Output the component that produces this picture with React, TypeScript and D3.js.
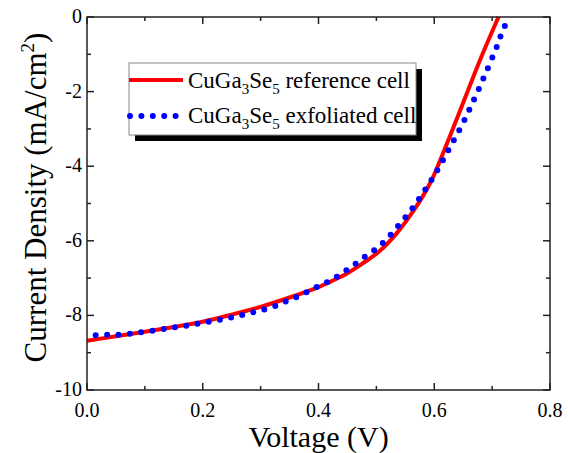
import React from "react";
import * as d3 from "d3";

// reference cell (solid red)
const refV = [0, 0.05, 0.1, 0.15, 0.2, 0.25, 0.3, 0.35, 0.4, 0.42, 0.45, 0.477, 0.506, 0.535, 0.564, 0.593, 0.61, 0.63, 0.655, 0.68, 0.711];
const refJ = [-8.68, -8.56, -8.44, -8.31, -8.17, -7.98, -7.77, -7.52, -7.24, -7.1, -6.87, -6.6, -6.27, -5.8, -5.2, -4.45, -3.85, -3.08, -2.1, -1.12, 0];

// exfoliated cell (blue dotted)
const exfV = [0.015, 0.035, 0.055, 0.075, 0.095, 0.115, 0.135, 0.155, 0.175, 0.195, 0.215, 0.235, 0.255, 0.275, 0.295, 0.315, 0.335, 0.35, 0.368, 0.384, 0.401, 0.419, 0.435, 0.452, 0.468, 0.485, 0.501, 0.515, 0.529, 0.542, 0.555, 0.567, 0.578, 0.589, 0.6, 0.61, 0.62, 0.629, 0.639, 0.648, 0.657, 0.665, 0.674, 0.682, 0.69, 0.698, 0.706, 0.712, 0.72, 0.727];
const exfJ = [-8.53, -8.52, -8.52, -8.49, -8.45, -8.41, -8.36, -8.31, -8.27, -8.21, -8.16, -8.1, -8.04, -7.96, -7.89, -7.8, -7.69, -7.58, -7.47, -7.34, -7.21, -7.08, -6.93, -6.75, -6.57, -6.37, -6.2, -6.0, -5.76, -5.52, -5.28, -5.03, -4.78, -4.52, -4.25, -3.98, -3.7, -3.44, -3.16, -2.89, -2.61, -2.33, -2.04, -1.75, -1.47, -1.17, -0.89, -0.61, -0.32, -0.03];

const xTicks = [0, 0.2, 0.4, 0.6, 0.8];
const xMinor = [0.1, 0.3, 0.5, 0.7];
const yTicks = [0, -2, -4, -6, -8, -10];
const yMinor = [-1, -3, -5, -7, -9];

const W = 568, H = 453;
const left = 87, right = 550, top = 17, bottom = 390;
const font = "Times New Roman, Liberation Serif, serif";

export default function App() {
  const x = d3.scaleLinear().domain([0, 0.8]).range([left, right]);
  const y = d3.scaleLinear().domain([-10, 0]).range([bottom, top]);

  const line = d3.line<[number, number]>()
    .x(d => x(d[0]))
    .y(d => y(d[1]))
    .curve(d3.curveCatmullRom.alpha(0.5));

  const refPath = line(refV.map((v, i) => [v, refJ[i]]) as [number, number][]) || "";
  const exfPath = line(exfV.map((v, i) => [v, exfJ[i]]) as [number, number][]) || "";

  const axisColor = "#222";
  const majLen = 7, minLen = 4;

  return (
    <svg width={W} height={H} style={{ position: "absolute", left: 0, top: 0, background: "#fff" }}>
      <defs>
        <clipPath id="plotclip">
          <rect x={left} y={top - 1} width={right - left} height={bottom - top + 1} />
        </clipPath>
      </defs>

      <g clipPath="url(#plotclip)">
        <path d={refPath} fill="none" stroke="#ff0000" strokeWidth={4} />
        <path d={exfPath} fill="none" stroke="#0000ff" strokeWidth={6} strokeLinecap="round" strokeDasharray="0 11.4" />
      </g>

      {/* frame */}
      <rect x={left} y={top} width={right - left} height={bottom - top} fill="none" stroke={axisColor} strokeWidth={1.5} />

      {/* ticks */}
      {xTicks.map(t => (
        <g key={"xt" + t}>
          <line x1={x(t)} x2={x(t)} y1={bottom} y2={bottom - majLen} stroke={axisColor} strokeWidth={1.5} />
          <line x1={x(t)} x2={x(t)} y1={top} y2={top + majLen} stroke={axisColor} strokeWidth={1.5} />
          <text x={x(t)} y={417} textAnchor="middle" fontFamily={font} fontSize={20}>{t.toFixed(1)}</text>
        </g>
      ))}
      {xMinor.map(t => (
        <g key={"xm" + t}>
          <line x1={x(t)} x2={x(t)} y1={bottom} y2={bottom - minLen} stroke={axisColor} strokeWidth={1.5} />
          <line x1={x(t)} x2={x(t)} y1={top} y2={top + minLen} stroke={axisColor} strokeWidth={1.5} />
        </g>
      ))}
      {yTicks.map(t => (
        <g key={"yt" + t}>
          <line x1={left} x2={left + majLen} y1={y(t)} y2={y(t)} stroke={axisColor} strokeWidth={1.5} />
          <line x1={right} x2={right - majLen} y1={y(t)} y2={y(t)} stroke={axisColor} strokeWidth={1.5} />
          <text x={82} y={y(t) + 6} textAnchor="end" fontFamily={font} fontSize={20}>{t}</text>
        </g>
      ))}
      {yMinor.map(t => (
        <g key={"ym" + t}>
          <line x1={left} x2={left + minLen} y1={y(t)} y2={y(t)} stroke={axisColor} strokeWidth={1.5} />
          <line x1={right} x2={right - minLen} y1={y(t)} y2={y(t)} stroke={axisColor} strokeWidth={1.5} />
        </g>
      ))}

      {/* axis titles */}
      <text x={(left + right) / 2} y={447} textAnchor="middle" fontFamily={font} fontSize={30}>Voltage (V)</text>
      <text transform={`translate(46,${(top + bottom) / 2 - 6}) rotate(-90)`} textAnchor="middle" fontFamily={font} fontSize={31}>
        Current Density (mA/cm<tspan dy={-12} fontSize={19}>2</tspan><tspan dy={12}>)</tspan>
      </text>

      {/* legend */}
      <rect x={135} y={69} width={287} height={72} fill="#000" />
      <rect x={129} y={63} width={287} height={72} fill="#fff" stroke="#888" strokeWidth={1} />
      <line x1={129} x2={183} y1={80} y2={80} stroke="#ff0000" strokeWidth={4} />
      <line x1={130} x2={178} y1={116} y2={116} stroke="#0000ff" strokeWidth={6} strokeLinecap="round" strokeDasharray="0 11.4" />
      <text x={188} y={88} fontFamily={font} fontSize={23}>
        CuGa<tspan dy={6} fontSize={15}>3</tspan><tspan dy={-6}>Se</tspan><tspan dy={6} fontSize={15}>5</tspan><tspan dy={-6}> reference cell</tspan>
      </text>
      <text x={188} y={123} fontFamily={font} fontSize={23}>
        CuGa<tspan dy={6} fontSize={15}>3</tspan><tspan dy={-6}>Se</tspan><tspan dy={6} fontSize={15}>5</tspan><tspan dy={-6}> exfoliated cell</tspan>
      </text>
    </svg>
  );
}
